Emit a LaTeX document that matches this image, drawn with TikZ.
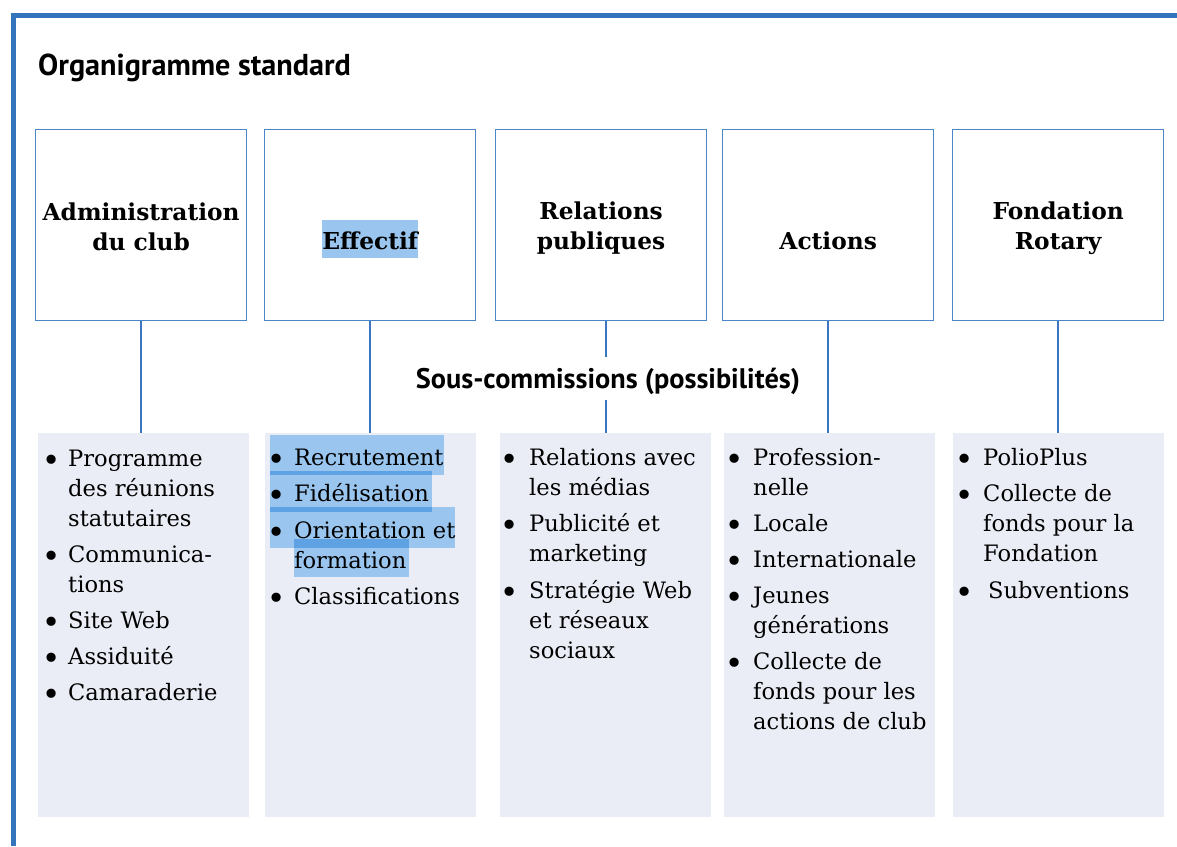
\documentclass[tikz,border=0pt]{standalone}
\usepackage{graphicx}
\usepackage{fontspec}
\setmainfont{DejaVu Serif}
\newfontfamily\titlefont{PT Sans}
\usetikzlibrary{calc}
\definecolor{framec}{HTML}{3474BC}
\definecolor{boxc}{HTML}{4A86C8}
\definecolor{linec}{HTML}{3A77C0}
\definecolor{listbg}{HTML}{EAEDF5}
\definecolor{hl}{HTML}{99C5EE}
\definecolor{hldark}{HTML}{5FA2E4}
\newcommand\bul[1]{\makebox[#1][c]{\raisebox{-5pt}{\scalebox{1.4}{•}}}}
\tikzset{
  head/.style={draw=boxc, line width=1.3pt, fill=white, minimum width=211pt, minimum height=191pt, inner sep=0pt, anchor=north west},
  listbox/.style={fill=listbg, minimum width=211pt, minimum height=384pt, inner sep=0pt, anchor=north west},
  conn/.style={draw=linec, line width=2.4pt},
  headtxt/.style={font=\fontsize{23.3}{30}\selectfont\bfseries, inner sep=0pt, anchor=base},
  listtxt/.style={font=\fontsize{22.6}{30}\selectfont, inner sep=0pt, anchor=base west},
  hlbox/.style={fill=hl},
  hlstrip/.style={fill=hldark},
}
\begin{document}
\begin{tikzpicture}[x=1pt,y=-1pt]
\useasboundingbox[fill=white] (0,0) rectangle (1177,846);
% frame
\draw[framec, line width=5pt] (13.5,846) -- (13.5,15.5) -- (1177,15.5);
% title
\node[anchor=base west, font=\titlefont\bfseries\fontsize{30.2}{34}\selectfont, inner sep=0pt] (title) at (38,75) {Organigramme standard};
% header boxes
\node[head] (h1) at (35,129) {};
\node[head] (h2) at (264,129) {};
\node[head] (h3) at (495,129) {};
\node[head] (h4) at (722,129) {};
\node[head] (h5) at (952,129) {};
% list boxes
\node[listbox] (l1) at (38,433) {};
\node[listbox] (l2) at (265,433) {};
\node[listbox] (l3) at (500,433) {};
\node[listbox] (l4) at (724,433) {};
\node[listbox] (l5) at (953,433) {};
% highlights
\fill[hlbox] (322,220) rectangle (418,258);
\fill[hlbox] (270,435) rectangle (444,475);
\fill[hlbox] (270,471) rectangle (432,512);
\fill[hlbox] (270,507) rectangle (455,548);
\fill[hlbox] (294,539) rectangle (409,577);
\fill[hlstrip] (270,471) rectangle (432,475);
\fill[hlstrip] (270,507) rectangle (432,512);
\fill[hlstrip] (294,539) rectangle (409,548);
% header texts
\node[headtxt] (ht1) at (h1.center |- 0,220) {\begin{tabular}[t]{@{}c@{}}Administration\\du club\end{tabular}};
\node[headtxt] (ht2) at (h2.center |- 0,249) {Effectif};
\node[headtxt] (ht3) at (h3.center |- 0,219) {\begin{tabular}[t]{@{}c@{}}Relations\\publiques\end{tabular}};
\node[headtxt] (ht4) at (h4.center |- 0,249) {Actions};
\node[headtxt] (ht5) at (h5.center |- 0,219) {\begin{tabular}[t]{@{}c@{}}Fondation\\Rotary\end{tabular}};
% sub label
\node[anchor=base, font=\titlefont\bfseries\fontsize{28.3}{30}\selectfont, inner xsep=0pt, inner ysep=9pt, text height=22pt, text depth=3pt] (sub) at (608,388) {Sous-commissions (possibilités)};
% connectors
\draw[conn] (h1.south) -- (h1.south |- l1.north);
\draw[conn] (h2.south) -- (h2.south |- l2.north);
\draw[conn] (h3.south -| l3.north) -- (sub.north -| l3.north);
\draw[conn] (sub.south -| l3.north) -- (l3.north);
\draw[conn] (h4.south) -- (h4.south |- l4.north);
\draw[conn] (h5.south) -- (h5.south |- l5.north);
% lists
\node[listtxt] (t1) at (34,466) {\begin{tabular}[t]{@{}l@{}l@{}}
\bul{34pt} & Programme\\ & des réunions\\ & statutaires\\[6pt]
\bul{34pt} & Communica-\\ & tions\\[6pt]
\bul{34pt} & Site Web\\[6pt]
\bul{34pt} & Assiduité\\[6pt]
\bul{34pt} & Camaraderie
\end{tabular}};
\node[listtxt] (t2) at (258,465) {\begin{tabular}[t]{@{}l@{}l@{}}
\bul{36pt} & Recrutement\\[6.5pt]
\bul{36pt} & Fidélisation\\[6.5pt]
\bul{36pt} & Orientation et\\ & formation\\[6.5pt]
\bul{36pt} & Classifications
\end{tabular}};
\node[listtxt] (t3) at (489,465) {\begin{tabular}[t]{@{}l@{}l@{}}
\bul{40pt} & Relations avec\\ & les médias\\[6.5pt]
\bul{40pt} & Publicité et\\ & marketing\\[6.5pt]
\bul{40pt} & Stratégie Web\\ & et réseaux\\ & sociaux
\end{tabular}};
\node[listtxt] (t4) at (715,465) {\begin{tabular}[t]{@{}l@{}l@{}}
\bul{38pt} & Profession-\\ & nelle\\[6.5pt]
\bul{38pt} & Locale\\[6pt]
\bul{38pt} & Internationale\\[6pt]
\bul{38pt} & Jeunes\\ & générations\\[6pt]
\bul{38pt} & Collecte de\\ & fonds pour les\\ & actions de club
\end{tabular}};
\node[listtxt] (t5) at (945,465) {\begin{tabular}[t]{@{}l@{}l@{}}
\bul{38pt} & PolioPlus\\[6.5pt]
\bul{38pt} & Collecte de\\ & fonds pour la\\ & Fondation\\[6.5pt]
\bul{38pt} & \hspace{5pt}Subventions
\end{tabular}};
\end{tikzpicture}
\end{document}
